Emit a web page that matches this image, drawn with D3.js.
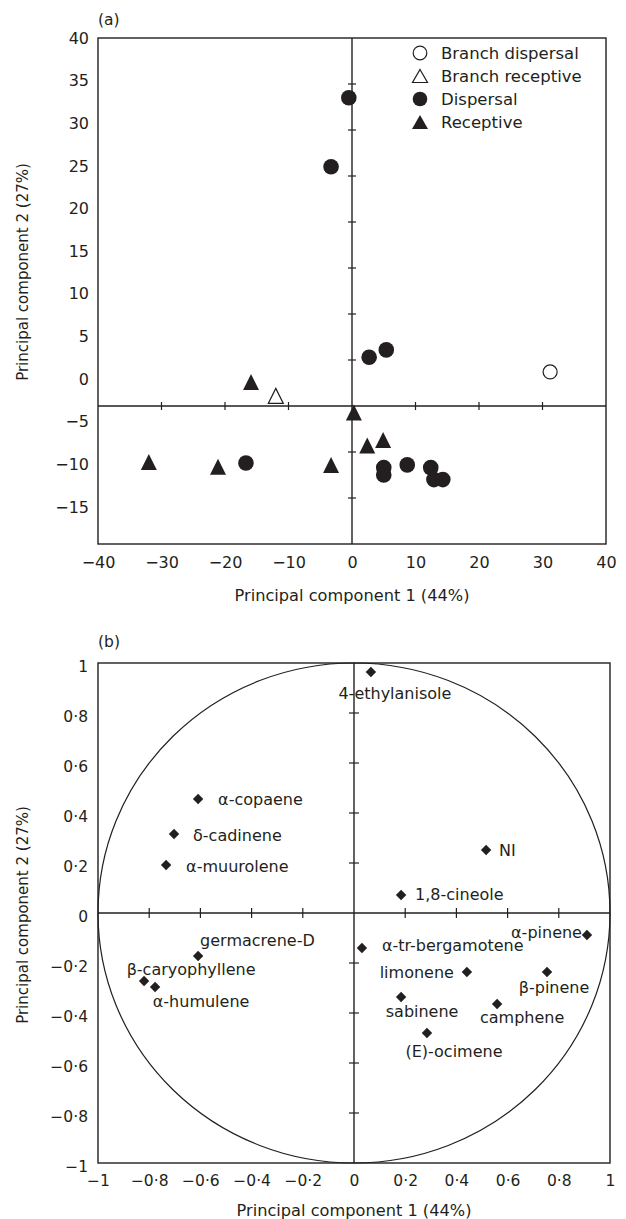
<!DOCTYPE html>
<html><head><meta charset="utf-8">
<script src="https://cdn.jsdelivr.net/npm/d3@7"></script>
<style>
html,body{margin:0;padding:0;background:#fff;}
svg{display:block;font-family:"DejaVu Sans",sans-serif;}
</style></head>
<body>
<svg id="chart" width="626" height="1219"></svg>
<script>
// ---------- Panel (a) data ----------
const xTicksA = [-40, -30, -20, -10, 0, 10, 20, 30, 40];
const yTickLabelsA = [40, 35, 30, 25, 20, 15, 10, 5, 0, -5, -10, -15];
const legendNames = ["Branch dispersal", "Branch receptive", "Dispersal", "Receptive"];
const branchDispersal = [[31.2, 3.7]];
const branchReceptive = [[-12.0, 1.1]];
const dispersal = [[-0.5, 33.5], [-3.3, 26.0], [2.7, 5.3], [5.4, 6.1], [5.0, -6.7], [5.0, -7.5],
  [8.7, -6.4], [12.4, -6.7], [12.9, -8.0], [14.3, -8.0], [-16.7, -6.2]];
const receptive = [[-15.9, 2.6], [0.3, -0.7], [2.4, -4.3], [4.9, -3.7], [-3.3, -6.4], [-32.0, -6.1], [-21.1, -6.6]];

// ---------- Panel (b) data ----------
const ticksB = [-1, -0.8, -0.6, -0.4, -0.2, 0, 0.2, 0.4, 0.6, 0.8, 1];
const compounds = ["4-ethylanisole", "α-copaene", "δ-cadinene", "α-muurolene", "NI", "1,8-cineole",
  "α-tr-bergamotene", "α-pinene", "limonene", "β-pinene", "sabinene", "camphene", "(E)-ocimene",
  "germacrene-D", "β-caryophyllene", "α-humulene"];
const pc1 = [0.066, -0.609, -0.703, -0.734, 0.516, 0.184, 0.031, 0.910, 0.441, 0.754, 0.184, 0.559, 0.285, -0.609, -0.820, -0.777];
const pc2 = [0.964, 0.456, 0.316, 0.192, 0.252, 0.072, -0.140, -0.088, -0.236, -0.236, -0.336, -0.364, -0.480, -0.172, -0.272, -0.296];

// label layout (anchor, pixel offsets) — presentation only
const labelLayout = [
  ["middle", 24, 21], ["start", 20, 0], ["start", 19, 1], ["start", 20, 1], ["start", 13, 0],
  ["start", 14, -1], ["start", 20, -3], ["end", -5, -3], ["end", -13, 0], ["middle", 7, 15],
  ["middle", 21, 14], ["middle", 25, 13], ["middle", 27, 18], ["start", 2, -16],
  ["middle", 47, -12], ["middle", 46, 14]
];

const ink = "#231f20";
const svg = d3.select("#chart");
svg.append("rect").attr("width", 626).attr("height", 1219).attr("fill", "#fff");

// ================= Panel (a) =================
const xA = d3.scaleLinear().domain([-40, 40]).range([98, 606]);
const yA = d3.scaleLinear().domain([-15, 40]).range([544, 38]);
// label placement scale as printed in the original figure
const yLabA = d3.scaleLinear().domain([-15, 40]).range([507, 38]);

const gA = svg.append("g");
gA.append("rect").attr("x", xA(-40)).attr("y", yA(40))
  .attr("width", xA(40) - xA(-40)).attr("height", yA(-15) - yA(40))
  .attr("fill", "none").attr("stroke", ink).attr("stroke-width", 1.4);
gA.append("line").attr("x1", xA(-40)).attr("x2", xA(40)).attr("y1", yA(0)).attr("y2", yA(0))
  .attr("stroke", ink).attr("stroke-width", 1.4);
gA.append("line").attr("x1", xA(0)).attr("x2", xA(0)).attr("y1", yA(40)).attr("y2", yA(-15))
  .attr("stroke", ink).attr("stroke-width", 1.4);
gA.selectAll(".tx").data(xTicksA.filter(d => d !== 0 && Math.abs(d) < 40)).join("line")
  .attr("x1", d => xA(d)).attr("x2", d => xA(d)).attr("y1", yA(0) - 4).attr("y2", yA(0) + 4)
  .attr("stroke", ink).attr("stroke-width", 1.2);
gA.selectAll(".ty").data(d3.range(-10, 40, 5).filter(d => d !== 0)).join("line")
  .attr("x1", xA(0) - 4).attr("x2", xA(0) + 4).attr("y1", d => yA(d)).attr("y2", d => yA(d))
  .attr("stroke", ink).attr("stroke-width", 1.2);

const axXA = gA.append("g").attr("transform", `translate(0,${yA(-15)})`)
  .call(d3.axisBottom(xA).tickValues(xTicksA).tickSize(0).tickPadding(13));
const axYA = gA.append("g").attr("transform", `translate(${xA(-40)},0)`)
  .call(d3.axisLeft(yLabA).tickValues(yTickLabelsA).tickSize(0).tickPadding(9));
[axXA, axYA].forEach(a => {
  a.select(".domain").remove();
  a.selectAll("text").attr("font-size", 16).attr("fill", ink).attr("font-family", "DejaVu Sans");
});

gA.append("text").attr("x", xA(-40)).attr("y", 20).attr("dy", "0.35em")
  .attr("font-size", 15.5).attr("fill", ink).text("(a)");
gA.append("text").attr("x", xA(0)).attr("y", 595).attr("dy", "0.35em").attr("text-anchor", "middle")
  .attr("font-size", 16.2).attr("fill", ink).text("Principal component 1 (44%)");
gA.append("text").attr("transform", "translate(23,272) rotate(-90)").attr("dy", "0.35em")
  .attr("text-anchor", "middle").attr("font-size", 15).attr("fill", ink).text("Principal component 2 (27%)");

const triPath = (w, h) => `M0,${-h / 2}L${w / 2},${h / 2}L${-w / 2},${h / 2}Z`;
gA.selectAll(".disp").data(dispersal).join("circle")
  .attr("cx", d => xA(d[0])).attr("cy", d => yA(d[1])).attr("r", 7.8).attr("fill", ink);
gA.selectAll(".rec").data(receptive).join("path")
  .attr("transform", d => `translate(${xA(d[0])},${yA(d[1])})`).attr("d", triPath(16, 16)).attr("fill", ink);
gA.selectAll(".bdisp").data(branchDispersal).join("circle")
  .attr("cx", d => xA(d[0])).attr("cy", d => yA(d[1])).attr("r", 7).attr("fill", "#fff")
  .attr("stroke", ink).attr("stroke-width", 1.2);
gA.selectAll(".brec").data(branchReceptive).join("path")
  .attr("transform", d => `translate(${xA(d[0])},${yA(d[1])})`).attr("d", triPath(15, 15))
  .attr("fill", "#fff").attr("stroke", ink).attr("stroke-width", 1.2);

const leg = gA.append("g").attr("transform", "translate(420,53)");
legendNames.forEach((name, i) => {
  const row = leg.append("g").attr("transform", `translate(0,${i * 23})`);
  if (i === 0) row.append("circle").attr("r", 6.8).attr("fill", "#fff").attr("stroke", ink).attr("stroke-width", 1.2);
  if (i === 1) row.append("path").attr("d", triPath(15, 13)).attr("fill", "#fff").attr("stroke", ink).attr("stroke-width", 1.2);
  if (i === 2) row.append("circle").attr("r", 7.3).attr("fill", ink);
  if (i === 3) row.append("path").attr("d", triPath(16, 14)).attr("fill", ink);
  row.append("text").attr("x", 21).attr("dy", "0.36em").attr("font-size", 16.5).attr("fill", ink).text(name);
});

// ================= Panel (b) =================
const xB = d3.scaleLinear().domain([-1, 1]).range([98, 610]);
const yB = d3.scaleLinear().domain([-1, 1]).range([1163, 663]);
const fmtB = d => d3.format("")(d).replace(".", "·");

const gB = svg.append("g");
gB.append("rect").attr("x", xB(-1)).attr("y", yB(1))
  .attr("width", xB(1) - xB(-1)).attr("height", yB(-1) - yB(1))
  .attr("fill", "none").attr("stroke", ink).attr("stroke-width", 1.4);
gB.append("ellipse").attr("cx", xB(0)).attr("cy", yB(0))
  .attr("rx", xB(1) - xB(0)).attr("ry", yB(0) - yB(1))
  .attr("fill", "none").attr("stroke", ink).attr("stroke-width", 1.2);
gB.append("line").attr("x1", xB(-1)).attr("x2", xB(1)).attr("y1", yB(0)).attr("y2", yB(0))
  .attr("stroke", ink).attr("stroke-width", 1.4);
gB.append("line").attr("x1", xB(0)).attr("x2", xB(0)).attr("y1", yB(1)).attr("y2", yB(-1))
  .attr("stroke", ink).attr("stroke-width", 1.4);
const innerB = ticksB.filter(d => d !== 0 && Math.abs(d) < 1);
gB.selectAll(".tx").data(innerB).join("line")
  .attr("x1", d => xB(d)).attr("x2", d => xB(d)).attr("y1", yB(0) - 5).attr("y2", yB(0) + 5)
  .attr("stroke", ink).attr("stroke-width", 1.2);
gB.selectAll(".ty").data(innerB).join("line")
  .attr("x1", xB(0) - 5).attr("x2", xB(0) + 5).attr("y1", d => yB(d)).attr("y2", d => yB(d))
  .attr("stroke", ink).attr("stroke-width", 1.2);

const axXB = gB.append("g").attr("transform", `translate(0,${yB(-1)})`)
  .call(d3.axisBottom(xB).tickValues(ticksB).tickFormat(fmtB).tickSize(0).tickPadding(12));
const axYB = gB.append("g").attr("transform", `translate(${xB(-1)},4)`)
  .call(d3.axisLeft(yB).tickValues(ticksB).tickFormat(fmtB).tickSize(0).tickPadding(10));
[axXB, axYB].forEach(a => {
  a.select(".domain").remove();
  a.selectAll("text").attr("font-size", 15.5).attr("fill", ink).attr("font-family", "DejaVu Sans");
});

gB.append("text").attr("x", xB(-1)).attr("y", 642).attr("dy", "0.35em")
  .attr("font-size", 15.5).attr("fill", ink).text("(b)");
gB.append("text").attr("x", xB(0)).attr("y", 1210).attr("dy", "0.35em").attr("text-anchor", "middle")
  .attr("font-size", 16.2).attr("fill", ink).text("Principal component 1 (44%)");
gB.append("text").attr("transform", "translate(23,915) rotate(-90)").attr("dy", "0.35em")
  .attr("text-anchor", "middle").attr("font-size", 15).attr("fill", ink).text("Principal component 2 (27%)");

const pts = compounds.map((name, i) => ({ name, x: pc1[i], y: pc2[i], lay: labelLayout[i] }));
gB.selectAll(".dia").data(pts).join("path")
  .attr("transform", d => `translate(${xB(d.x)},${yB(d.y)})`)
  .attr("d", "M0,-5.2L5.2,0L0,5.2L-5.2,0Z").attr("fill", ink);
gB.selectAll(".lab").data(pts).join("text")
  .attr("x", d => xB(d.x) + d.lay[1]).attr("y", d => yB(d.y) + d.lay[2])
  .attr("dy", "0.35em").attr("text-anchor", d => d.lay[0])
  .attr("font-size", 16).attr("fill", ink).text(d => d.name);
</script>
</body></html>
